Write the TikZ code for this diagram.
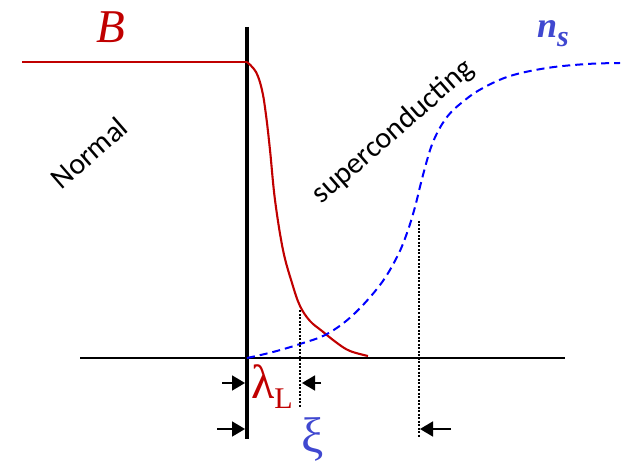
\documentclass[tikz,border=0pt]{standalone}
\usepackage{fontspec}
\setmainfont{Liberation Serif}
\newfontfamily\labelfont{Carlito}
\usetikzlibrary{arrows.meta}
\definecolor{fieldred}{RGB}{192,0,0}
\definecolor{densblue}{RGB}{0,0,255}
\definecolor{greekblue}{RGB}{64,72,208}
\tikzset{
  regionlabel/.style={font=\labelfont\fontsize{30}{30}\selectfont, rotate=41},
  marker/.style={dash pattern=on 2pt off 1.5pt, line width=2pt},
  gap/.style={->, line width=1.8pt}
}
\begin{document}
\begin{tikzpicture}[x=1pt, y=-1pt, >={Triangle[length=13pt,width=15pt]}]
  \useasboundingbox (0,0) rectangle (621,462);
  % axis and interface
  \draw[line width=1.8pt] (80,358) -- (565,358);
  \draw[line width=4.8pt] (247,27) -- (247,439);
  % field B
  \draw[fieldred, line width=2.1pt] (22,62) -- (247,62);
  \draw[fieldred, line width=2.1pt] plot[smooth, tension=0.6] coordinates {(247,62) (256,72) (262,90) (266,115) (270,150) (275,200) (283,250) (292,283) (300,306) (310,321) (322,331) (337,343) (350,351) (368,356)};
  % density n_s
  \draw[densblue, line width=2pt, dash pattern=on 8pt off 5pt] plot[smooth, tension=0.6] coordinates {(247,358) (273,352) (300,344) (327,334) (353,315) (380,285) (397,257) (407,233) (415,207) (423,175) (433,142) (447,117) (465,100) (483,88) (510,76) (547,68) (587,64) (620,63)};
  % labels
  \node[fieldred, anchor=base, font=\fontsize{47}{47}\selectfont\itshape] (Blabel) at (111,43) {B};
  \node[greekblue, anchor=base west, inner sep=0pt, font=\fontsize{36}{36}\selectfont\bfseries\itshape] (nslabel) at (537,38) {n\raisebox{-9pt}{\fontsize{30}{30}\selectfont s}};
  \node[regionlabel] (normal) at (89,153) {Normal};
  \node[regionlabel] (sc) at (393,132) {superconducting};
  % length markers
  \draw[marker] (300,310) -- (300,407);
  \draw[marker] (419,221) -- (419,438);
  \coordinate (lamtailL) at (222,383);
  \coordinate (lamtipL) at (245,383);
  \coordinate (lamtailR) at (321,383);
  \coordinate (lamtipR) at (302,383);
  \coordinate (xitailL) at (217,429);
  \coordinate (xitipL) at (245,429);
  \coordinate (xitailR) at (451,429);
  \coordinate (xitipR) at (420,429);
  \draw[gap] (lamtailL) -- (lamtipL);
  \draw[gap] (lamtailR) -- (lamtipR);
  \draw[gap] (xitailL) -- (xitipL);
  \draw[gap] (xitailR) -- (xitipR);
  \node[fieldred, anchor=base west, inner sep=0pt, font=\fontsize{48}{48}\selectfont] (lamlabel) at (251,398) {λ\raisebox{-10pt}{\fontsize{30}{30}\selectfont L}};
  \node[greekblue, anchor=base west, inner sep=0pt, font=\fontsize{50}{50}\selectfont] (xilabel) at (301,452) {ξ};
\end{tikzpicture}
\end{document}
